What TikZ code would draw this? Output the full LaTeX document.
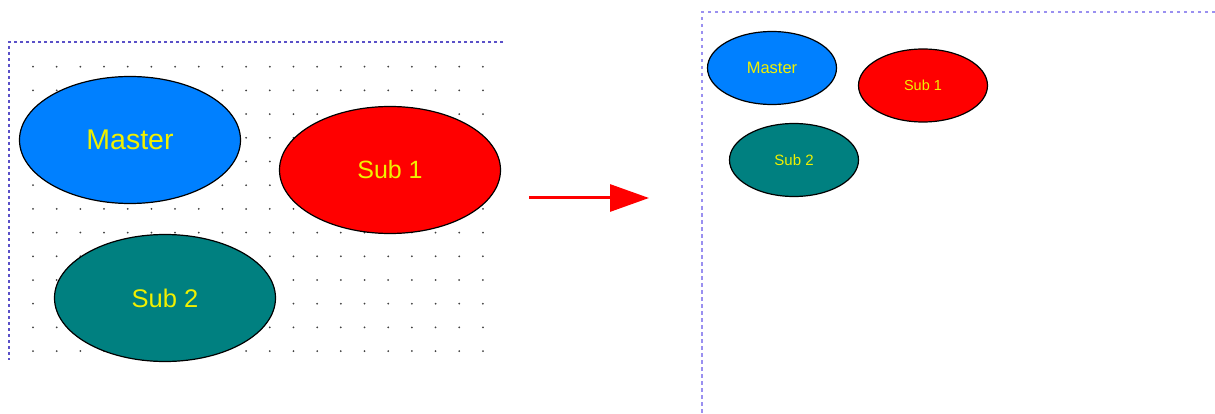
\documentclass[tikz,border=0pt]{standalone}
\usepackage{fontspec}
\setmainfont{Liberation Sans}
\usetikzlibrary{shapes.geometric,arrows.meta}
\definecolor{mblue}{HTML}{0080FF}
\definecolor{mred}{HTML}{FF0000}
\definecolor{mteal}{HTML}{008080}
\definecolor{myellow}{HTML}{F0F000}
\definecolor{borderA}{HTML}{5A50C8}
\definecolor{borderB}{HTML}{9A90F0}
\definecolor{dotgray}{HTML}{404040}
\tikzset{
  blob/.style={ellipse, draw=black, line width=1.2pt, inner sep=0pt, text=myellow},
  bigblob/.style={blob, minimum width=221pt, minimum height=127pt},
  smallblob/.style={blob, minimum width=129pt, minimum height=73pt},
  frameA/.style={draw=borderA, line width=1.3pt, dash pattern=on 3pt off 3pt},
  frameB/.style={draw=borderB, line width=1.3pt, dash pattern=on 3.5pt off 3.5pt},
}
\begin{document}
\begin{tikzpicture}[x=1pt,y=-1pt]
\useasboundingbox (0,0) rectangle (1215,414);
% left panel frame
\coordinate (lc) at (9,42);
\coordinate (lr) at (503,42);
\coordinate (lb) at (9,360);
\draw[frameA] (lr) -- (lc) -- (lb);
% dot grid
\foreach \i in {0,...,19} {
  \foreach \j in {0,...,12} {
    \fill[dotgray] (33+23.68*\i, 66.7+23.7*\j) circle (1.0);
  }
}
% left ellipses
\node[bigblob, fill=mblue, font=\fontsize{28.5}{32}\selectfont] (m1) at (130,140) {Master};
\node[bigblob, fill=mred, font=\fontsize{25}{29}\selectfont] (s11) at (390,170) {Sub 1};
\node[bigblob, fill=mteal, font=\fontsize{25.5}{29}\selectfont] (s21) at (165,298) {Sub 2};
% arrow
\coordinate (a1) at (529,198);
\coordinate (a2) at (649,198);
\draw[mred, line width=3pt, -{Triangle[length=39pt,width=27pt]}] (a1) -- (a2);
% right panel frame
\coordinate (rc) at (702,12);
\coordinate (rr) at (1215,12);
\coordinate (rb) at (702,414);
\draw[frameB] (rr) -- (rc) -- (rb);
% right ellipses
\node[smallblob, fill=mblue, font=\fontsize{16.5}{19}\selectfont] (m2) at (772,68) {Master};
\node[smallblob, fill=mred, font=\fontsize{14.5}{17}\selectfont] (s12) at (923,85.5) {Sub 1};
\node[smallblob, fill=mteal, font=\fontsize{15}{17}\selectfont] (s22) at (794,160) {Sub 2};
\end{tikzpicture}
\end{document}
